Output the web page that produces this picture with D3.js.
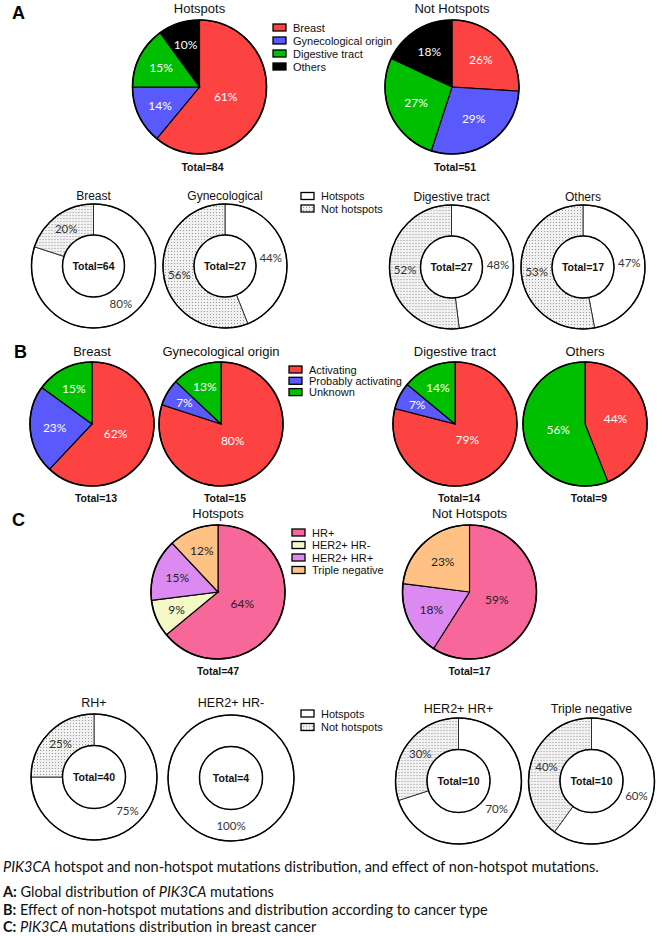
<!DOCTYPE html>
<meta charset="utf-8">
<script src="https://d3js.org/d3.v7.min.js"></script>
<style>
  body { margin: 0; background: #fff; }
  svg text { font-family: Arial, "Liberation Sans", sans-serif; }
  .pct { font-family: Lato, "Open Sans", sans-serif; }
  .cap { font-family: Lato, "Open Sans", sans-serif; font-size: 14.5px; fill: #111; }
</style>
<div id="chart"></div>
<script>

// ---- A: global distribution
var originGroups = ["Breast", "Gynecological origin", "Digestive tract", "Others"];
var hotspotsByOrigin = [61, 14, 15, 10];
var notHotspotsByOrigin = [26, 29, 27, 18];
var totalsA = [84, 51];

var donutGroups = ["Hotspots", "Not hotspots"];
var donutTitlesA = ["Breast", "Gynecological", "Digestive tract", "Others"];
var hotspotShareA = [80, 44, 48, 47];
var notHotspotShareA = [20, 56, 52, 53];
var donutTotalsA = [64, 27, 27, 17];

// ---- B: effect of non-hotspot mutations
var effectGroups = ["Activating", "Probably activating", "Unknown"];
var effectTitles = ["Breast", "Gynecological origin", "Digestive tract", "Others"];
var activating = [62, 80, 79, 44];
var probablyActivating = [23, 7, 7, 0];
var unknownEffect = [15, 13, 14, 56];
var totalsB = [13, 15, 14, 9];

// ---- C: breast cancer subtypes
var subtypeGroups = ["HR+", "HER2+ HR-", "HER2+ HR+", "Triple negative"];
var hotspotsBySubtype = [64, 9, 15, 12];
var notHotspotsBySubtype = [59, 0, 18, 23];
var totalsC = [47, 17];
var donutTitlesC = ["RH+", "HER2+ HR-", "HER2+ HR+", "Triple negative"];
var hotspotShareC = [75, 100, 70, 60];
var notHotspotShareC = [25, 0, 30, 40];
var donutTotalsC = [40, 4, 10, 10];

// colours
var originColors = ["#fd4242", "#5a5afc", "#00bf00", "#000000"];
var effectColors = ["#fd4242", "#5a5afc", "#00bf00"];
var subtypeColors = ["#f8679a", "#f4f7c6", "#dc8af2", "#ffc284"];

var svg = d3.select("#chart").append("svg")
  .attr("width", 660)
  .attr("height", 936);

var defs = svg.append("defs");
var pat = defs.append("pattern")
  .attr("id", "dots")
  .attr("width", 3).attr("height", 3)
  .attr("patternUnits", "userSpaceOnUse");
pat.append("rect").attr("width", 3).attr("height", 3).attr("fill", "#f1f1f1");
pat.append("rect").attr("width", 1).attr("height", 1).attr("fill", "#999");

var pieGen = d3.pie().sort(null).value(function(d) { return d; });

function title(x, y, txt, size) {
  svg.append("text")
    .attr("x", x).attr("y", y)
    .attr("text-anchor", "middle")
    .attr("dominant-baseline", "central")
    .style("font-size", size + "px")
    .attr("fill", "#111")
    .text(txt);
}

function total(x, y, n) {
  svg.append("text")
    .attr("x", x).attr("y", y)
    .attr("text-anchor", "middle")
    .attr("dominant-baseline", "central")
    .style("font-size", "10.5px")
    .style("font-weight", "bold")
    .attr("fill", "#111")
    .text("Total=" + n);
}

// filled pie, labels placed nearer the centre for big slices
function drawPie(cx, cy, r, values, colors, labelColor) {
  var g = svg.append("g").attr("transform", "translate(" + cx + "," + cy + ")");
  var arcs = pieGen(values).filter(function(d) { return d.value > 0; });
  var arc = d3.arc().innerRadius(0).outerRadius(r);
  g.selectAll("path")
    .data(arcs)
    .enter().append("path")
      .attr("d", arc)
      .attr("fill", function(d) { return colors[d.index]; })
      .attr("stroke", "#000")
      .attr("stroke-width", 1.1);
  g.append("circle").attr("r", r).attr("fill", "none")
    .attr("stroke", "#000").attr("stroke-width", 1.6);
  g.selectAll("text")
    .data(arcs)
    .enter().append("text")
      .attr("class", "pct")
      .attr("transform", function(d) {
        var a = (d.startAngle + d.endAngle) / 2;
        var f = d.value / 100;
        var dist = r * (0.72 - 0.5 * f);
        return "translate(" + (Math.sin(a) * dist) + "," + (-Math.cos(a) * dist) + ")";
      })
      .attr("text-anchor", "middle")
      .attr("dominant-baseline", "central")
      .style("font-size", "12px")
      .attr("fill", labelColor)
      .text(function(d) { return d.value + "%"; });
}

// donut: white = hotspots, dotted = not hotspots
function drawDonut(cx, cy, r, r0, hot, notHot, n) {
  var g = svg.append("g").attr("transform", "translate(" + cx + "," + cy + ")");
  var arcs = pieGen([hot, notHot]).filter(function(d) { return d.value > 0; });
  var arc = d3.arc().innerRadius(r0).outerRadius(r);
  g.selectAll("path")
    .data(arcs)
    .enter().append("path")
      .attr("d", arc)
      .attr("fill", function(d) { return d.index === 0 ? "#fff" : "url(#dots)"; })
      .attr("stroke", "#222")
      .attr("stroke-width", 0.9);
  g.append("circle").attr("r", r).attr("fill", "none")
    .attr("stroke", "#000").attr("stroke-width", 1.5);
  g.append("circle").attr("r", r0).attr("fill", "#fff")
    .attr("stroke", "#000").attr("stroke-width", 1.5);
  var mid = (r + r0) / 2;
  g.selectAll("text.pct")
    .data(arcs)
    .enter().append("text")
      .attr("class", "pct")
      .attr("transform", function(d) {
        var a = (d.startAngle + d.endAngle) / 2;
        return "translate(" + (Math.sin(a) * mid) + "," + (-Math.cos(a) * mid) + ")";
      })
      .attr("text-anchor", "middle")
      .attr("dominant-baseline", "central")
      .style("font-size", "11.5px")
      .attr("fill", "#333")
      .text(function(d) { return d.value + "%"; });
  g.append("text")
    .attr("text-anchor", "middle")
    .attr("dominant-baseline", "central")
    .style("font-size", "10.5px")
    .style("font-weight", "bold")
    .attr("fill", "#111")
    .text("Total=" + n);
}

function legend(x, y, step, labels, fills) {
  labels.forEach(function(lab, i) {
    svg.append("rect")
      .attr("x", x).attr("y", y + i * step - 3.5)
      .attr("width", 13).attr("height", 7)
      .attr("fill", fills[i])
      .attr("stroke", "#000").attr("stroke-width", 1.3);
    svg.append("text")
      .attr("x", x + 20).attr("y", y + i * step)
      .attr("dominant-baseline", "central")
      .style("font-size", "11px")
      .attr("fill", "#111")
      .text(lab);
  });
}

function panelLetter(x, y, t) {
  svg.append("text")
    .attr("x", x).attr("y", y)
    .attr("dominant-baseline", "central")
    .style("font-size", "18px")
    .style("font-weight", "bold")
    .text(t);
}

// ===== A =====
panelLetter(12, 13, "A");
var aPies = [{cx: 199.5, values: hotspotsByOrigin, t: "Hotspots"},
             {cx: 452, values: notHotspotsByOrigin, t: "Not Hotspots"}];
aPies.forEach(function(p, i) {
  title(p.cx, 8, p.t, 13);
  drawPie(p.cx, 87, 67, p.values, originColors, "#fff");
  total(p.cx + 3, 167, totalsA[i]);
});
legend(273, 27.5, 13, originGroups, originColors);

var aDonutX = [93.5, 225, 451.5, 583];
aDonutX.forEach(function(cx, i) {
  var cy = i < 2 ? 266 : 267;
  title(cx, cy - 70, donutTitlesA[i], 12);
  drawDonut(cx, cy, 62, 31, hotspotShareA[i], notHotspotShareA[i], donutTotalsA[i]);
});
legend(301, 196, 12.5, donutGroups, ["#fff", "url(#dots)"]);

// ===== B =====
panelLetter(14, 352, "B");
var bX = [92, 221, 455, 585];
bX.forEach(function(cx, i) {
  title(cx, 351, effectTitles[i], 13);
  drawPie(cx, 424, 62, [activating[i], probablyActivating[i], unknownEffect[i]], effectColors, "#fff");
  total(cx + 4, 497.5, totalsB[i]);
});
legend(289, 369.5, 11.3, effectGroups, effectColors);

// ===== C =====
panelLetter(12, 520, "C");
var cPies = [{cx: 218, values: hotspotsBySubtype, t: "Hotspots"},
             {cx: 469.5, values: notHotspotsBySubtype, t: "Not Hotspots"}];
cPies.forEach(function(p, i) {
  title(p.cx, 513, p.t, 13);
  drawPie(p.cx, 592, 67, p.values, subtypeColors, "#222");
  total(p.cx, 671, totalsC[i]);
});
legend(292, 532.5, 12.5, subtypeGroups, subtypeColors);

var cDonuts = [{cx: 94, cy: 777, t: 703}, {cx: 231, cy: 778, t: 703},
               {cx: 458.5, cy: 781, t: 709}, {cx: 591.5, cy: 781, t: 709}];
cDonuts.forEach(function(p, i) {
  title(p.cx, p.t, donutTitlesC[i], 12.5);
  drawDonut(p.cx, p.cy, 63, 31.5, hotspotShareC[i], notHotspotShareC[i], donutTotalsC[i]);
});
legend(301, 713.5, 13.5, donutGroups, ["#fff", "url(#dots)"]);

// ===== caption =====
function capLine(y, parts) {
  var t = svg.append("text").attr("class", "cap").attr("x", 3).attr("y", y)
    .attr("dominant-baseline", "central");
  parts.forEach(function(p) {
    var s = t.append("tspan").text(p[0]);
    if (p[1] === "i") s.style("font-style", "italic");
    if (p[1] === "b") s.style("font-weight", "bold");
  });
}
capLine(866, [["PIK3CA", "i"], [" hotspot and non-hotspot mutations distribution, and effect of non-hotspot mutations."]]);
capLine(891, [["A:", "b"], [" Global distribution of "], ["PIK3CA", "i"], [" mutations"]]);
capLine(908.5, [["B:", "b"], [" Effect of non-hotspot mutations and distribution according to cancer type"]]);
capLine(926, [["C:", "b"], [" "], ["PIK3CA", "i"], [" mutations distribution in breast cancer"]]);

</script>
